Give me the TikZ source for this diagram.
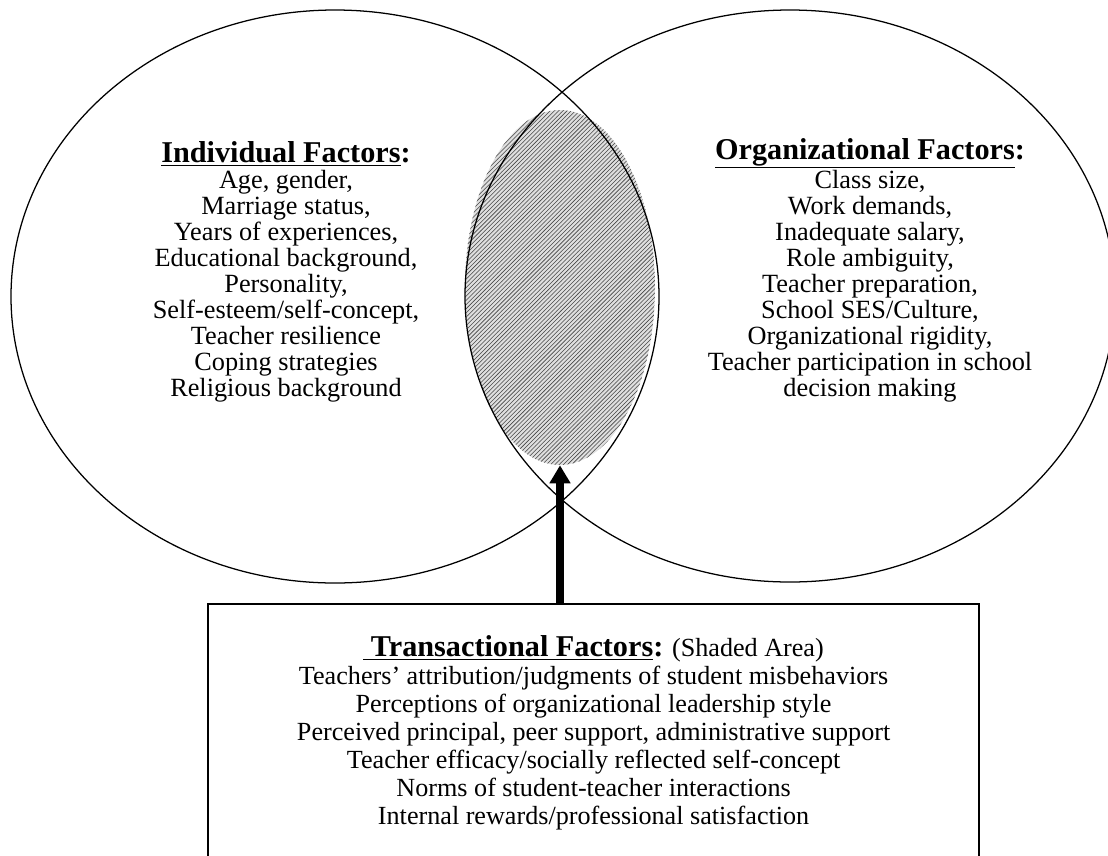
\documentclass[tikz,border=0pt]{standalone}
\usepackage{fontspec}
\setmainfont{Liberation Serif}
\usetikzlibrary{shapes}
\usetikzlibrary{positioning}
\usetikzlibrary{arrows.meta}
\usetikzlibrary{patterns}
\tikzset{
    venn/.style = {ellipse, draw=black, line width=0.9pt, inner sep=0pt},
    shadedarea/.style = {ellipse, inner sep=0pt, fill=gray!25, postaction={pattern=north east lines, pattern color=gray!55!black}},
    factorlist/.style = {align=center, font=\fontsize{18.7}{18.5}\selectfont},
    translist/.style = {align=center, font=\fontsize{18.6}{19.9}\selectfont},
    transbox/.style = {rectangle, draw=black, line width=1.2pt, minimum width=19.275cm, minimum height=8cm, anchor=north},
    edgebig/.style = {-{Triangle[length=0.45cm,width=0.5cm]}, line width=5pt}
}
\newcommand{\facthead}[1]{{\fontsize{21.5}{22}\selectfont\underline{\textbf{#1}}\textbf{:}}}

\begin{document}
\begin{tikzpicture}
  \useasboundingbox (0,0) rectangle (27.7,-21.375);
  \clip (0,0) rectangle (27.7,-21.375);

  % shaded overlap and the two sets
  \node[shadedarea, minimum width=4.75cm, minimum height=8.875cm] (shade) at (14.0,-7.1875) {};
  \node[venn, minimum width=16.2cm, minimum height=14.325cm] (indiv) at (8.375,-7.4125) {};
  \node[venn, minimum width=16.25cm, minimum height=14.3cm] (organ) at (19.75,-7.4) {};

  \node[factorlist] (indivlist) at (7.15,-6.8) {\facthead{Individual Factors}\\
    Age, gender,\\ Marriage status,\\ Years of experiences,\\ Educational background,\\
    Personality,\\ Self-esteem/self-concept,\\ Teacher resilience\\ Coping strategies\\
    Religious background};
  \node[factorlist] (organlist) at (21.75,-6.75) {\facthead{Organizational Factors}\\
    Class size,\\ Work demands,\\ Inadequate salary,\\ Role ambiguity,\\
    Teacher preparation,\\ School SES/Culture,\\ Organizational rigidity,\\
    Teacher participation in school\\ decision making};

  % transactional box
  \node[transbox] (trans) at (14.84,-15.075) {};
  \node[translist, below=0.7cm of trans.north] (translines) {\facthead{\ Transactional Factors} (Shaded Area)\\
    Teachers’ attribution/judgments of student misbehaviors\\
    Perceptions of organizational leadership style\\
    Perceived principal, peer support, administrative support\\
    Teacher efficacy/socially reflected self-concept\\
    Norms of student-teacher interactions\\
    Internal rewards/professional satisfaction};

  \draw[edgebig] (trans.north -| shade.south) -- (shade.south);
\end{tikzpicture}
\end{document}
